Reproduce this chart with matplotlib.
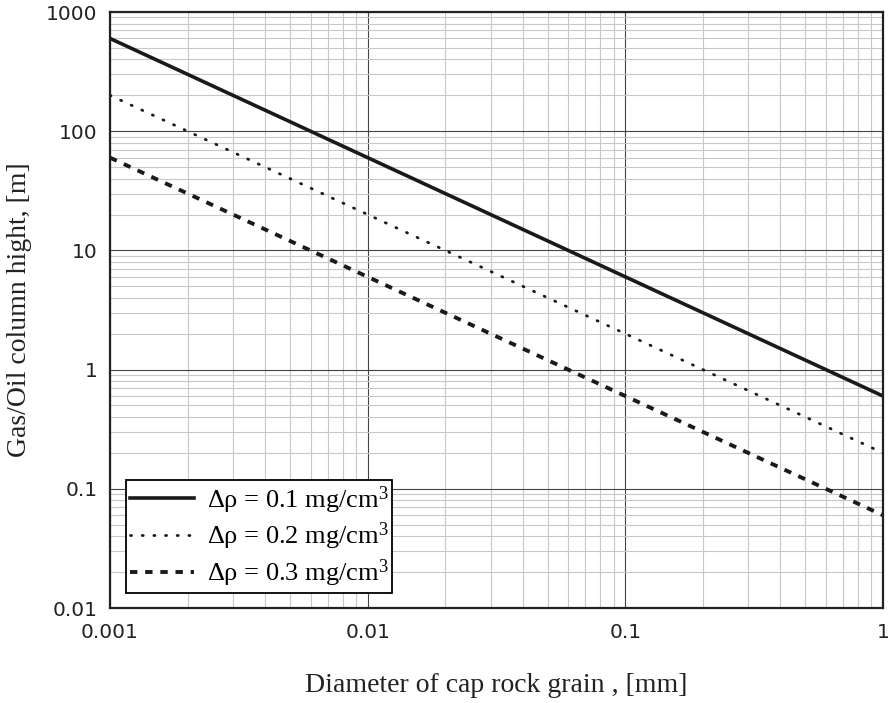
import numpy as np
from matplotlib import pyplot as plt
from matplotlib.ticker import FixedLocator, FixedFormatter, LogLocator, NullFormatter

# values
diameter = [0.001, 0.002, 0.005, 0.01, 0.02, 0.05, 0.1, 0.2, 0.5, 1.0]
h_01 = [600, 300, 120, 60, 30, 12, 6, 3, 1.2, 0.6]
h_02 = [200, 100, 40, 20, 10, 4, 2, 1, 0.4, 0.2]
h_03 = [60, 30, 12, 6, 3, 1.2, 0.6, 0.3, 0.12, 0.06]
labels = ["Δρ = 0.1 mg/cm$^3$", "Δρ = 0.2 mg/cm$^3$", "Δρ = 0.3 mg/cm$^3$"]
xticks = [0.001, 0.01, 0.1, 1]
xtick_labels = ["0.001", "0.01", "0.1", "1"]
yticks = [0.01, 0.1, 1, 10, 100, 1000]
ytick_labels = ["0.01", "0.1", "1", "10", "100", "1000"]

plt.rcParams["mathtext.fontset"] = "custom"
plt.rcParams["mathtext.rm"] = "Liberation Serif"
plt.rcParams["mathtext.it"] = "Liberation Serif:italic"
plt.rcParams["mathtext.default"] = "rm"

fig = plt.figure(figsize=(8.94, 7.03), dpi=100)
ax = fig.add_axes([110 / 894, 1 - 608 / 703, 773 / 894, 596 / 703])

ax.plot(diameter, h_01, color="#1a1a1a", lw=2.6, label=labels[0])
ax.plot(diameter, h_02, color="#1a1a1a", lw=2.0, ls=(0, (0.4, 3.8)), dash_capstyle="round", label=labels[1])
ax.plot(diameter, h_03, color="#1a1a1a", lw=2.8, ls=(0, (1.9, 2.0)), label=labels[2])

ax.set_xscale("log")
ax.set_yscale("log")
ax.set_xlim(0.001, 1)
ax.set_ylim(0.01, 1000)

ax.xaxis.set_major_locator(FixedLocator(xticks))
ax.xaxis.set_major_formatter(FixedFormatter(xtick_labels))
ax.yaxis.set_major_locator(FixedLocator(yticks))
ax.yaxis.set_major_formatter(FixedFormatter(ytick_labels))
ax.xaxis.set_minor_locator(LogLocator(base=10, subs=np.arange(2, 10), numticks=20))
ax.yaxis.set_minor_locator(LogLocator(base=10, subs=np.arange(2, 10), numticks=20))
ax.xaxis.set_minor_formatter(NullFormatter())
ax.yaxis.set_minor_formatter(NullFormatter())

ax.grid(which="major", color="#444444", lw=0.8)
ax.grid(which="minor", color="#c8c8c8", lw=0.8)
ax.set_axisbelow(True)
ax.tick_params(which="both", length=0, labelsize=14.5, colors="#222222")
ax.tick_params(axis="x", pad=11)
ax.tick_params(axis="y", pad=9)
for lab in ax.get_xticklabels() + ax.get_yticklabels():
    lab.set_family("DejaVu Sans")
for s in ax.spines.values():
    s.set_linewidth(1.6)
    s.set_color("#222222")

ax.set_xlabel("Diameter of cap rock grain , [mm]", family="Liberation Serif", fontsize=20, labelpad=22, color="#222222")
ax.set_ylabel("Gas/Oil column hight, [m]", family="Liberation Serif", fontsize=20, labelpad=10, color="#222222")

leg = ax.legend(loc="lower left", bbox_to_anchor=(0.021, 0.025), prop={"family": "Liberation Serif", "size": 19},
                fancybox=False, framealpha=1, edgecolor="black", handlelength=2.4, borderpad=0.15,
                labelspacing=0.2, handletextpad=0.5, borderaxespad=0)
leg.get_frame().set_linewidth(1.3)

fig.savefig("out.png", dpi=100)
